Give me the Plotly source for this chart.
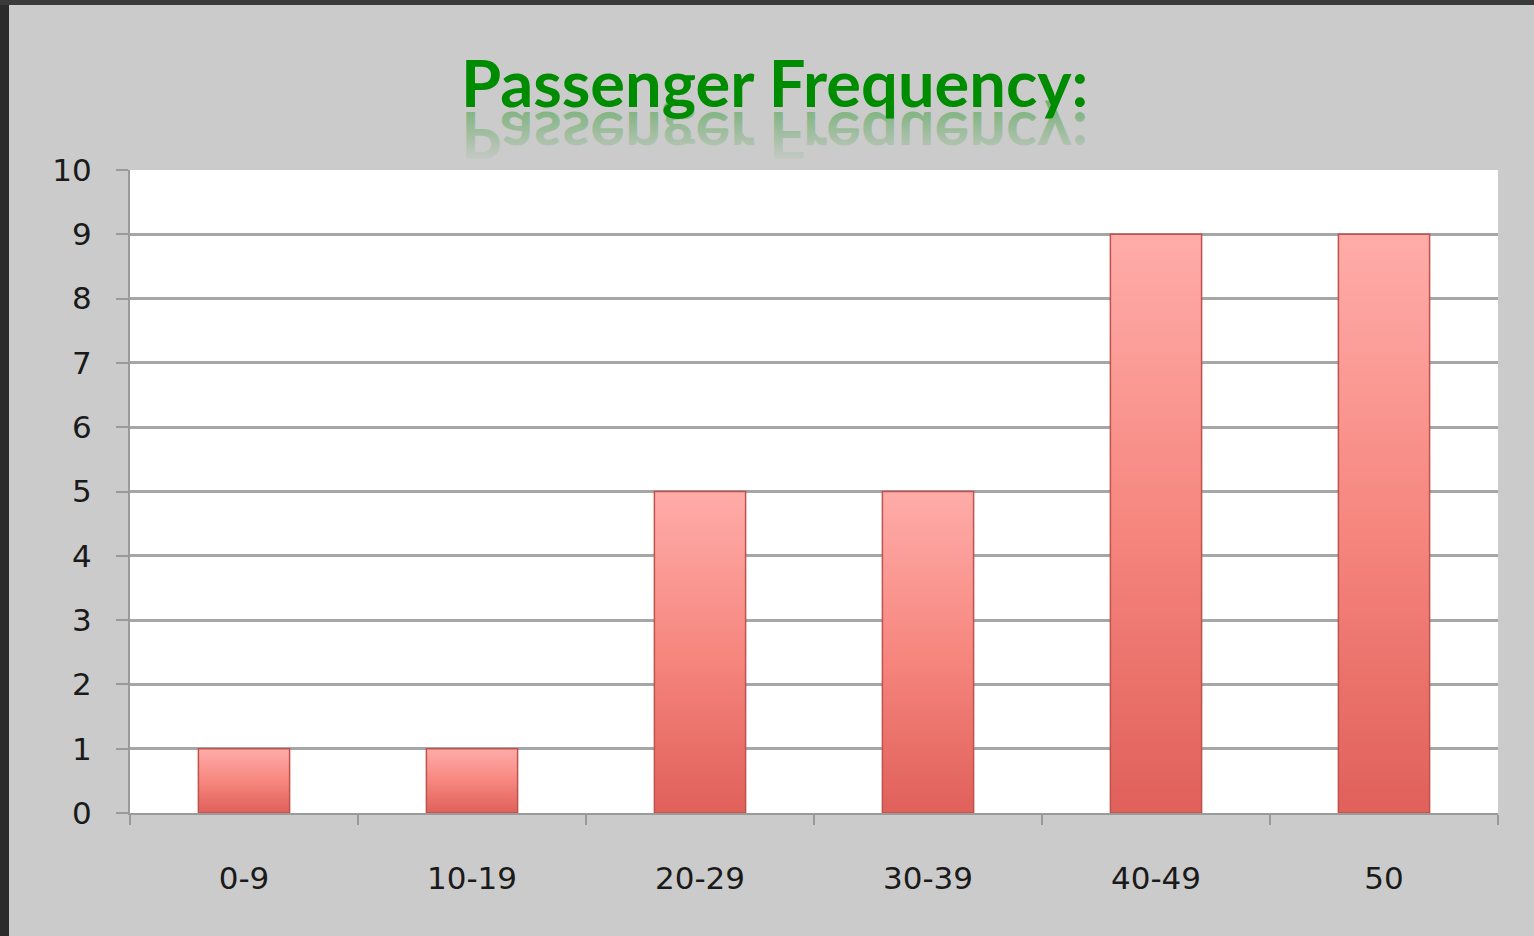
import plotly.graph_objects as go

categories = ["0-9", "10-19", "20-29", "30-39", "40-49", "50"]
frequency = [1, 1, 5, 5, 9, 9]
y_ticks = list(range(0, 11))

W, H = 1534, 936
L, R, T, B = 130, 36, 170, 123
pw, ph = W - L - R, H - T - B

fig = go.Figure()
fig.add_trace(go.Bar(
    x=categories, y=frequency,
    marker=dict(color="#f48984", line=dict(color="#c0524d", width=1.5)),
    width=0.4,
))

def px_x(p):
    return (p - L) / pw

def px_y(p):
    return (H - B - p) / ph

shapes = [
    dict(type="rect", xref="paper", yref="paper", x0=px_x(0), x1=px_x(9), y0=px_y(H), y1=px_y(0),
         fillcolor="#2b2b2b", line=dict(width=0), layer="below"),
    dict(type="rect", xref="paper", yref="paper", x0=px_x(0), x1=px_x(W), y0=px_y(5), y1=px_y(0),
         fillcolor="#3a3a3a", line=dict(width=0), layer="below"),
]

fig.update_layout(
    width=W, height=H,
    margin=dict(l=L, r=R, t=T, b=B),
    paper_bgcolor="#cbcbcb",
    plot_bgcolor="#ffffff",
    showlegend=False,
    shapes=shapes,
    title=dict(text="<b>Passenger Frequency:</b>", x=0.505, xanchor="center", y=1 - 84 / H, yanchor="middle",
               font=dict(family="Lato", size=65, color="#008c00")),
    font=dict(family="DejaVu Sans", size=31, color="#1a1a1a"),
    xaxis=dict(type="category", showgrid=False, showline=True, linecolor="#9a9a9a", linewidth=2,
               ticks="outside", tickson="boundaries", ticklen=10, tickcolor="#9a9a9a", tickwidth=2,
               tickfont=dict(size=31), ticklabelstandoff=37),
    yaxis=dict(range=[0, 10], tickvals=y_ticks, showgrid=True, gridcolor="#a6a6a6", gridwidth=2.5,
               showline=True, linecolor="#9a9a9a", linewidth=2, ticks="outside", ticklen=12,
               tickcolor="#9a9a9a", tickwidth=2, zeroline=False, tickfont=dict(size=31),
               ticklabelstandoff=18),
)

post_js = """
document.body.style.margin = '0';
(function(){
  var ns = 'http://www.w3.org/2000/svg';
  function mkGrad(defs, id, stops){
    var lg = document.createElementNS(ns, 'linearGradient');
    lg.setAttribute('id', id);
    lg.setAttribute('x1', '0'); lg.setAttribute('y1', '0');
    lg.setAttribute('x2', '0'); lg.setAttribute('y2', '1');
    stops.forEach(function(s){
      var st = document.createElementNS(ns, 'stop');
      st.setAttribute('offset', s[0]); st.setAttribute('stop-color', s[1]); st.setAttribute('stop-opacity', s[2]);
      lg.appendChild(st);
    });
    defs.appendChild(lg);
  }
  function getDefs(svg){
    var defs = svg.querySelector('defs');
    if(!defs){ defs = document.createElementNS(ns, 'defs'); svg.insertBefore(defs, svg.firstChild); }
    return defs;
  }
  function style(){
    var gd = document.getElementById('{plot_id}');
    if(!gd) return false;
    var t = gd.querySelector('.gtitle');
    var bars = gd.querySelectorAll('.bars .point path');
    if(!t || !bars.length) return false;
    if(gd.querySelector('.gtitle-reflect')) return true;
    var bsvg = bars[0].ownerSVGElement;
    mkGrad(getDefs(bsvg), 'bar-grad', [['0', '#ffaca9', '1'], ['0.5', '#f6877f', '1'], ['1', '#e0605a', '1']]);
    bars.forEach(function(p){ p.style.fill = 'url(#bar-grad)'; });
    var svg = t.ownerSVGElement;
    mkGrad(getDefs(svg), 'title-reflect-grad', [['0.15', '#008c00', '0'], ['1', '#008c00', '0.45']]);
    var c = t.cloneNode(true);
    c.setAttribute('class', 'gtitle-reflect');
    c.setAttribute('transform', 'matrix(1,0,0,-1,0,219)');
    c.style.fill = 'url(#title-reflect-grad)';
    t.parentNode.insertBefore(c, t);
    return true;
  }
  if(!style()){ setTimeout(style, 150); }
})();
"""

fig.write_html("out.html", post_script=post_js, config={"displayModeBar": False})
